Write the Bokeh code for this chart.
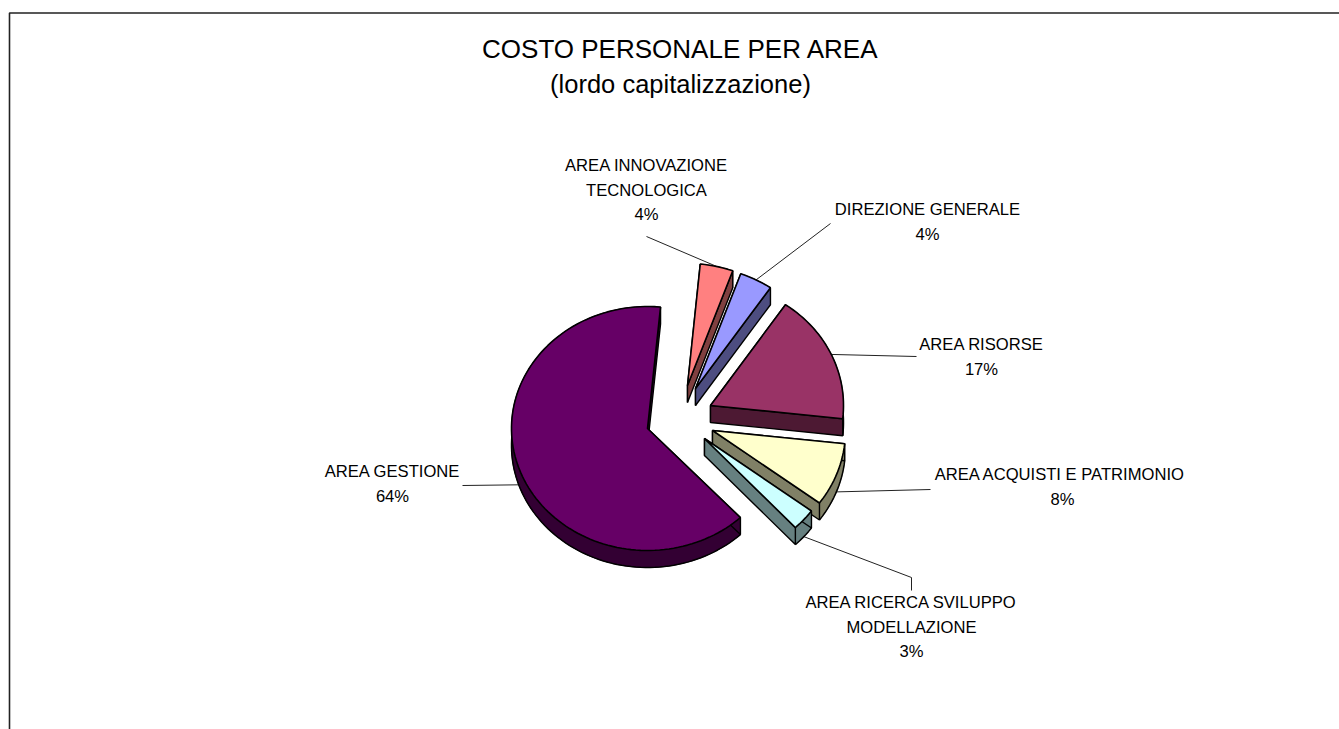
import numpy as np
from bokeh.plotting import figure
from bokeh.models import Range1d
from bokeh.core.properties import value
from bokeh.embed import file_html
from bokeh.resources import INLINE

# ---- data ----
categories = ["AREA INNOVAZIONE\nTECNOLOGICA", "DIREZIONE GENERALE", "AREA RISORSE",
              "AREA  ACQUISTI E PATRIMONIO", "AREA RICERCA SVILUPPO\nMODELLAZIONE", "AREA GESTIONE"]
shares = [4.0, 4.0, 17.2, 8.4, 2.9, 63.5]
pct_labels = ["4%", "4%", "17%", "8%", "3%", "64%"]
title_lines = ["COSTO PERSONALE PER AREA", "(lordo capitalizzazione)"]

# ---- style / layout (page pixels) ----
top_colors = ["#FF8080", "#9999FF", "#993366", "#FFFFCC", "#CCFFFF", "#660066"]
wall_colors = ["#804040", "#4D4D80", "#4D1933", "#808066", "#668080", "#330033"]
centers = [(687, 385), (695, 388), (710, 405), (712, 430), (704, 438), (647, 428)]
radii_x = [133, 133, 133, 133, 133, 136]
RY, DEPTH = 122, 17
START = 5.5
label_pos = [(646, 165), (927, 209), (981, 344), (1062, 474), (911, 602), (392, 471)]
leader_end = [[(646, 236)], [(830, 223)], [(916, 356)], [(930, 489)], [(911, 577), (911, 590)], [(462, 485)]]
LINE_H = 24.7
FONT = value("Liberation Sans")

p = figure(width=1339, height=729, output_backend="svg", toolbar_location=None,
           x_range=Range1d(0, 1339), y_range=Range1d(729, 0), min_border=0,
           outline_line_color=None, background_fill_color="white")
p.axis.visible = False
p.grid.visible = False

# chart frame (top and left edges run off the page)
p.line([9, 9, 1339], [729, 12.5, 12.5], line_color="#222222", line_width=1.6)

def pt(c, rx, deg):
    t = np.radians(deg)
    return c[0] + rx * np.sin(t), c[1] - RY * np.cos(t)

edges = START + np.concatenate([[0], np.cumsum(shares)]) * 3.6

# leaders first so the slices sit above them
for i in range(len(shares)):
    mid = (edges[i] + edges[i + 1]) / 2
    x0, y0 = pt(centers[i], radii_x[i], mid)
    if np.cos(np.radians(mid)) < 0:
        y0 += DEPTH
    xs = [x0] + [e[0] for e in leader_end[i]]
    ys = [y0] + [e[1] for e in leader_end[i]]
    p.line(xs, ys, line_color="#222222", line_width=1)

# extruded slices
for i in range(len(shares)):
    c = centers[i]
    arc = np.arange(edges[i], edges[i + 1], 2.0).tolist() + [edges[i + 1]]
    ax, ay = zip(*[pt(c, radii_x[i], a) for a in arc])
    ox = [c[0]] + list(ax)
    oy = [c[1]] + list(ay)
    # curved wall: filled strip, outlined only along its lower edge
    p.patch(list(ax) + list(ax)[::-1],
            list(ay) + [y + DEPTH for y in ay][::-1],
            fill_color=wall_colors[i], line_color=wall_colors[i], line_width=1)
    p.line(list(ax), [y + DEPTH for y in ay], line_color="black", line_width=1.5)
    # the two cut faces
    for ex, ey in [(ax[0], ay[0]), (ax[-1], ay[-1])]:
        p.patch([c[0], ex, ex, c[0]], [c[1], ey, ey + DEPTH, c[1] + DEPTH],
                fill_color=wall_colors[i], line_color="black", line_width=1.4)
    p.patch(ox, oy, fill_color=top_colors[i], line_color="black", line_width=1.6)

# labels
for i, cat in enumerate(categories):
    lines = cat.split("\n") + [pct_labels[i]]
    x, y = label_pos[i]
    for k, s in enumerate(lines):
        p.text([x], [y + k * LINE_H], text=[s], text_font=FONT, text_font_size="16.6px",
               text_align="center", text_baseline="middle", text_color="black")

# title
for s, y, fs in zip(title_lines, [48, 83], ["26px", "25.5px"]):
    p.text([680], [y], text=[s], text_font=FONT, text_font_size=fs,
           text_align="center", text_baseline="middle", text_color="black")

open("out.html", "w").write(file_html(p, INLINE))
